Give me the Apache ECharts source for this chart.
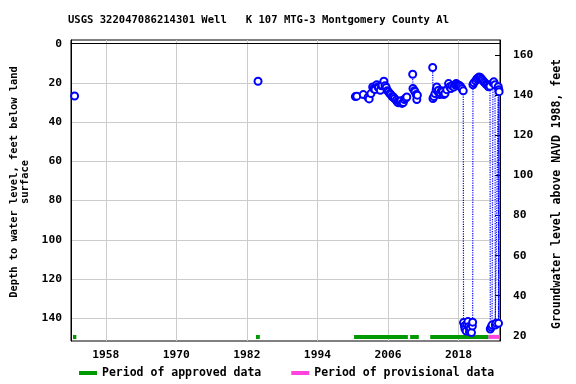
<!DOCTYPE html>
<html><head><meta charset="utf-8">
<script src="https://cdn.jsdelivr.net/npm/echarts@6/dist/echarts.min.js"></script>
<style>html,body{margin:0;padding:0;background:#fff}#c{width:576px;height:384px}</style>
</head><body><div id="c"></div>
<script>
const chartTitle = 'USGS 322047086214301 Well   K 107 MTG-3 Montgomery County Al';
const leftAxisTitle = 'Depth to water level, feet below land\nsurface';
const rightAxisTitle = 'Groundwater level above NAVD 1988, feet';
const xTicks = [1958, 1970, 1982, 1994, 2006, 2018];
const depthTicks = [0, 20, 40, 60, 80, 100, 120, 140];
const elevTicks = [20, 40, 60, 80, 100, 120, 140, 160];

// observations (null = gap in record)
const obsYear = [
  1952.7, null,
  1983.9, null,
  2000.45, 2000.7, 2001.8, 2002.6, 2002.8, 2003.1, 2003.4, 2003.6, 2003.8, 2004.1, 2004.3, 2004.4, 2004.7, 2004.9, 2005.0, 2005.3,
  2005.5, 2005.7, 2005.9, 2006.1, 2006.3, 2006.5, 2006.7, 2006.9, 2007.1, 2007.4, 2007.6, 2007.8, 2008.0, 2008.2, 2008.4, 2008.6,
  2008.8, 2009.0, 2009.2, null,
  2010.2, 2010.25, 2010.5, 2010.6, 2010.8, 2010.9, 2011.0, null,
  2013.6, 2013.65, 2013.8, 2014.0, 2014.2, 2014.3, 2014.5, 2014.6, 2014.8, 2014.9, 2015.1, 2015.3, 2015.5, 2015.7, 2016.0, 2016.3,
  2016.5, 2016.7, 2016.9, 2017.2, 2017.4, 2017.6, 2017.8, 2018.0, 2018.2, 2018.4, 2018.6, 2018.8,
  2018.85, 2019.0, 2019.1, 2019.3, 2019.4, 2019.6, 2019.7, 2019.85, 2020.0, 2020.2, 2020.35, 2020.4,
  2020.45, 2020.6, 2020.9, 2021.1, 2021.3, 2021.5, 2021.7, 2021.9, 2022.1, 2022.3, 2022.5, 2022.7, 2022.9, 2023.1, 2023.35,
  2023.4, 2023.55, 2023.7, 2023.85, 2024.0, 2024.2, 2024.25, 2024.4, 2024.75, 2024.8, 2024.85, 2024.9
];
const obsDepth = [
  26.7, null,
  19.2, null,
  27.0, 26.8, 26.0, 27.5, 28.2, 25.5, 22.1, 23.0, 23.4, 21.0, 22.0, 22.5, 23.8, 21.5, 21.2, 19.2,
  21.5, 22.4, 24.0, 24.6, 25.5, 26.0, 27.0, 27.2, 28.0, 28.9, 29.8, 30.2, 29.5, 29.2, 30.5, 30.0,
  28.5, 27.8, 27.2, null,
  15.6, 22.9, 24.0, 24.6, 26.0, 28.5, 26.3, null,
  12.2, 28.0, 27.0, 25.5, 23.5, 22.1, 24.5, 23.8, 26.0, 25.1, 24.0, 24.6, 26.0, 25.5, 23.5, 20.4,
  22.0, 22.9, 21.5, 22.1, 21.0, 20.4, 20.8, 21.2, 21.5, 22.1, 23.0, 24.1,
  142.2, 144.0, 145.5, 146.5, 143.0, 141.7, 144.3, 146.8, 145.0, 147.3, 144.0, 142.0,
  21.0, 20.0, 19.0, 18.0, 17.5, 17.0, 17.3, 18.0, 18.7, 19.5, 20.0, 20.7, 21.2, 22.0, 21.7,
  145.5, 144.5, 143.5, 20.0, 19.5, 21.0, 143.5, 142.5, 22.0, 142.6, 23.5, 24.5
];

const approvedStart = [1952.43, 1983.55, 2000.23, 2009.77, 2013.18];
const approvedEnd   = [1953.0, 1984.2, 2009.38, 2011.24, 2023.1];
const provisionalStart = [2023.1];
const provisionalEnd   = [2025.05];

const PERIOD_BAR_DEPTH = 149.5;
const FONT = 'DejaVu Sans Mono';

function periodData(starts, ends) {
  const out = [];
  starts.forEach((s, i) => {
    out.push([s, PERIOD_BAR_DEPTH], [ends[i], PERIOD_BAR_DEPTH], ['-', '-']);
  });
  return out;
}
const obsData = obsYear.map((y, i) => (y === null ? ['-', '-'] : [y, obsDepth[i]]));

const chart = echarts.init(document.getElementById('c'), null, { renderer: 'canvas' });
const labelStyle = { fontFamily: FONT, fontWeight: 'bold', fontSize: 11.3, color: '#000' };
chart.setOption({
  animation: false,
  backgroundColor: '#fff',
  title: {
    text: chartTitle, left: 68, top: 15, padding: 0,
    textStyle: { fontFamily: FONT, fontWeight: 'bold', fontSize: 10.55, color: '#000' }
  },
  grid: { left: 71, right: 76, top: 40, bottom: 43, show: true, borderColor: '#000', borderWidth: 1, backgroundColor: 'transparent' },
  xAxis: {
    type: 'value', min: 1952.09, max: 2025.05,
    axisLine: { lineStyle: { color: '#000' } },
    axisTick: { show: false, customValues: xTicks },
    axisLabel: Object.assign({ customValues: xTicks, margin: 9, formatter: v => String(v) }, labelStyle),
    splitLine: { show: true, lineStyle: { color: '#cccccc', width: 1 } }
  },
  yAxis: [{
    type: 'value', inverse: true, min: -1.83, max: 151.6, position: 'left',
    axisLine: { show: true, lineStyle: { color: '#000' } },
    axisTick: { show: false, customValues: depthTicks },
    axisLabel: Object.assign({ customValues: depthTicks, margin: 9 }, labelStyle),
    splitLine: { show: true, lineStyle: { color: '#cccccc', width: 1 } }
  }, {
    type: 'value', min: 17.44, max: 167.5, position: 'right',
    axisLine: { show: true, lineStyle: { color: '#000' } },
    axisTick: { show: true, inside: true, length: 5, customValues: elevTicks, lineStyle: { color: '#000' } },
    axisLabel: Object.assign({ customValues: elevTicks, margin: 13 }, labelStyle),
    splitLine: { show: false }
  }],
  legend: {
    left: 79, top: 367, padding: 0, itemGap: 30, itemWidth: 18, itemHeight: 4, icon: 'rect',
    textStyle: { fontFamily: FONT, fontWeight: 'bold', fontSize: 11.5, color: '#000' },
    data: ['Period of approved data', 'Period of provisional data']
  },
  graphic: [
    { type: 'text', x: 20, y: 182, rotation: Math.PI / 2,
      style: { text: leftAxisTitle, fill: '#000', font: 'bold 10.4px "DejaVu Sans Mono"', align: 'center', verticalAlign: 'middle', lineHeight: 11 } },
    { type: 'text', x: 557, y: 194, rotation: Math.PI / 2,
      style: { text: rightAxisTitle, fill: '#000', font: 'bold 11.5px "DejaVu Sans Mono"', align: 'center', verticalAlign: 'middle' } }
  ],
  series: [
    { name: 'Period of approved data', type: 'line', yAxisIndex: 0, data: periodData(approvedStart, approvedEnd),
      symbol: 'none', connectNulls: false, lineStyle: { color: '#009900', width: 4, cap: 'butt' }, itemStyle: { color: '#009900' }, z: 3 },
    { name: 'Period of provisional data', type: 'line', yAxisIndex: 0, data: periodData(provisionalStart, provisionalEnd),
      symbol: 'none', connectNulls: false, lineStyle: { color: '#ff44dd', width: 4, cap: 'butt' }, itemStyle: { color: '#ff44dd' }, z: 3 },
    { name: 'Depth to water', type: 'line', yAxisIndex: 0, data: obsData, connectNulls: false,
      symbol: 'emptyCircle', symbolSize: 7, showAllSymbol: true,
      lineStyle: { color: '#0000ff', width: 1.2, type: 'dotted' },
      itemStyle: { color: '#0000ff', borderColor: '#0000ff', borderWidth: 1.5 }, z: 4 }
  ]
});
</script></body></html>
